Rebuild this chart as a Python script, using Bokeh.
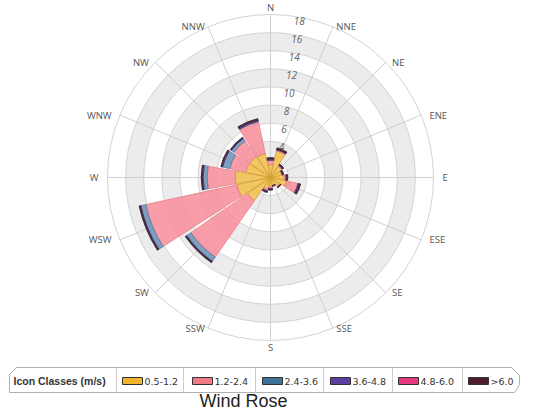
import numpy as np
from bokeh.plotting import figure
from bokeh.models import Range1d, ColumnDataSource
from bokeh.core.properties import value
from bokeh.embed import file_html
from bokeh.resources import INLINE

# ---------------- data ----------------
directions = ["N", "NNE", "NE", "ENE", "E", "ESE", "SE", "SSE",
              "S", "SSW", "SW", "WSW", "W", "WNW", "NW", "NNW"]
classes = ["0.5-1.2", "1.2-2.4", "2.4-3.6", "3.6-4.8", "4.8-6.0", ">6.0"]

s_05_12 = [1.4, 3.0, 1.5, 1.3, 1.5, 1.8, 1.2, 0.9, 1.0, 1.3, 3.1, 3.8, 3.9, 2.8, 2.8, 2.7]
s_12_24 = [0.5, 0.1, 0.1, 0.0, 0.2, 1.3, 0.1, 0.0, 0.2, 0.2, 7.6, 10.3, 3.1, 1.8, 2.1, 3.6]
s_24_36 = [0.0, 0.0, 0.0, 0.0, 0.0, 0.0, 0.0, 0.0, 0.0, 0.0, 0.55, 0.55, 0.43, 0.8, 0.35, 0.05]
s_36_48 = [0.15, 0.1, 0.1, 0.1, 0.1, 0.15, 0.05, 0.05, 0.1, 0.1, 0.1, 0.1, 0.12, 0.12, 0.08, 0.15]
s_48_60 = [0.0, 0.0, 0.0, 0.0, 0.0, 0.0, 0.0, 0.0, 0.0, 0.0, 0.0, 0.0, 0.0, 0.0, 0.0, 0.0]
s_gt_60 = [0.15, 0.15, 0.1, 0.1, 0.1, 0.15, 0.05, 0.05, 0.1, 0.1, 0.1, 0.1, 0.1, 0.1, 0.08, 0.15]
series = [s_05_12, s_12_24, s_24_36, s_36_48, s_48_60, s_gt_60]

radial_ticks = [4, 6, 8, 10, 12, 14, 16, 18]
grid_values = [2, 4, 6, 8, 10, 12, 14, 16, 18]
axis_max = 18

# ---------------- style ----------------
bar_fill = ["#f2c04c", "#f8919c", "#6d94b6", "#5c4a8e", "#e8508a", "#4d2535"]
bar_line = ["#d29d2e", "#e77d8a", "#557d9f", "#4a3a78", "#c93d74", "#3a1a28"]
swatch_fill = ["#f2b52a", "#f27a85", "#3f7096", "#5a3f9e", "#e53a80", "#4d1c2d"]

W, H = 530, 415
CX, CY = 270, 177          # pixel position of the rose centre
K = 163.0 / axis_max       # pixels per unit


def X(px):
    return (px - CX) / K


def Y(py):
    return (CY - py) / K


p = figure(width=W, height=H, output_backend="svg", toolbar_location=None,
           x_range=Range1d(X(0), X(W)), y_range=Range1d(Y(H), Y(0)),
           min_border=0, x_axis_location=None, y_axis_location=None)
p.grid.visible = False
p.outline_line_color = None
p.background_fill_color = "white"
p.border_fill_color = "white"

# alternating bands
for lo in [2, 6, 10, 14]:
    p.annulus(x=0, y=0, inner_radius=lo, outer_radius=lo + 2,
              fill_color="#ececec", line_color=None)

# grid circles
p.circle(x=[0] * len(grid_values), y=[0] * len(grid_values), radius=grid_values,
         fill_color=None, line_color="#d3d3d3", line_width=1)

# radial grid lines
theta = np.deg2rad(np.arange(len(directions)) * 360.0 / len(directions))
p.segment(x0=np.zeros(len(directions)), y0=np.zeros(len(directions)),
          x1=axis_max * np.sin(theta), y1=axis_max * np.cos(theta),
          line_color="#d0d0d0", line_width=1)

# stacked bars
half = np.deg2rad(20.5) / 2
phi = np.pi / 2 - theta
bottom = np.zeros(len(directions))
for vals, fc, lc in zip(series, bar_fill, bar_line):
    v = np.array(vals, dtype=float)
    top = bottom + v
    m = v > 0
    src = ColumnDataSource(dict(inner=bottom[m], outer=top[m],
                                start=phi[m] - half, end=phi[m] + half))
    p.annular_wedge(x=0, y=0, inner_radius="inner", outer_radius="outer",
                    start_angle="start", end_angle="end", direction="anticlock",
                    source=src, fill_color=fc, fill_alpha=0.88,
                    line_color=lc, line_width=0.8)
    bottom = top

# direction labels
lab_r = axis_max
off = 9.0 / K
groups = {"left": ([], [], []), "right": ([], [], []), "center": ([], [], [])}
for name, t in zip(directions, theta):
    s, c = np.sin(t), np.cos(t)
    x = lab_r * s + off * s
    y = lab_r * c
    if abs(s) < 0.05:
        align = "center"
        y += (7.0 / K) * np.sign(c)
    elif s > 0:
        align = "left"
    else:
        align = "right"
    groups[align][0].append(x)
    groups[align][1].append(y)
    groups[align][2].append(name)
for align, (xs, ys, ts) in groups.items():
    p.text(x=xs, y=ys, text=ts, text_align=align, text_baseline="middle",
           text_font=value("Open Sans"), text_font_size="9.5px", text_color="#555555")

# radial value labels
ang = np.deg2rad(8)
rt = np.array(radial_ticks, dtype=float)
p.text(x=rt * np.sin(ang) + 6.0 / K, y=rt * np.cos(ang) - 5.0 / K,
       text=[str(t) for t in radial_ticks], text_align="center", text_baseline="middle",
       text_font=value("Open Sans"), text_font_style="italic",
       text_font_size="10px", text_color="#666666")

# ---------------- legend box ----------------
box = [(9, 374), (16, 367), (511, 367), (519, 375), (519, 384), (514, 392), (9, 392)]
p.patch(x=[X(a) for a, b in box], y=[Y(b) for a, b in box],
        fill_color="white", line_color="#b0b0b0", line_width=1)
seps = [116, 183, 255, 323, 392, 462]
p.segment(x0=[X(s) for s in seps], y0=[Y(367)] * len(seps),
          x1=[X(s) for s in seps], y1=[Y(392)] * len(seps),
          line_color="#cccccc", line_width=1)
p.text(x=[X(13)], y=[Y(380)], text=["Icon Classes (m/s)"], text_align="left",
       text_baseline="middle", text_font=value("Liberation Sans"), text_font_style="bold",
       text_font_size="10.5px", text_color="#333333")
sw_x = [122, 192, 262, 330, 398, 468]
p.quad(left=[X(a) for a in sw_x], right=[X(a + 20) for a in sw_x],
       top=[Y(377)] * len(sw_x), bottom=[Y(384)] * len(sw_x),
       fill_color=swatch_fill, line_color="#333333", line_width=1)
p.text(x=[X(a + 22) for a in sw_x], y=[Y(380.5)] * len(sw_x), text=classes,
       text_align="left", text_baseline="middle", text_font=value("DejaVu Sans"),
       text_font_size="9.5px", text_color="#333333")

# title
p.text(x=[X(243)], y=[Y(400)], text=["Wind Rose"], text_align="center",
       text_baseline="middle", text_font=value("Liberation Sans"),
       text_font_size="18px", text_color="#222222")

open("out.html", "w").write(file_html(p, INLINE))
